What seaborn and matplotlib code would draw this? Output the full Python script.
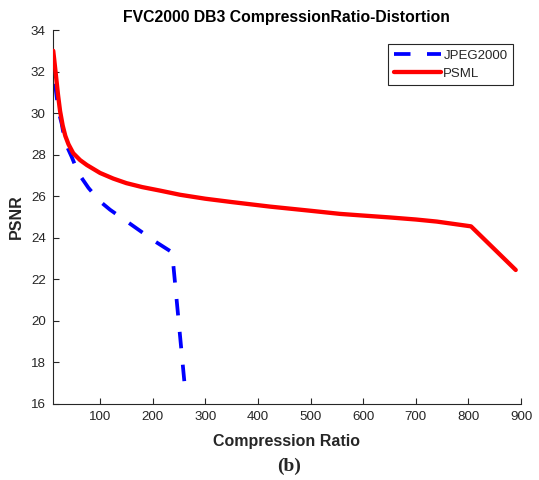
import matplotlib
matplotlib.use("Agg")
import matplotlib.pyplot as plt
import seaborn as sns
import pandas as pd

# ---- data ----
jpeg_x = [10, 14, 21, 27, 33.5, 46, 59, 78, 100, 119, 150, 206, 237, 262]
jpeg_y = [33.0, 31.5, 30.1, 29.5, 28.6, 27.9, 27.1, 26.4, 25.75, 25.35, 24.8, 23.8, 23.3, 16.6]

psml_x = [11, 13, 16, 20, 24, 29, 34, 40, 49, 62, 75, 100, 125, 150, 180, 214, 252,
          300, 350, 423, 500, 556, 594, 650, 700, 740, 805, 890]
psml_y = [33.0, 32.55, 31.85, 30.9, 30.1, 29.4, 28.9, 28.5, 28.07, 27.74, 27.5, 27.12,
          26.85, 26.63, 26.44, 26.27, 26.07, 25.88, 25.72, 25.5, 25.3, 25.15, 25.08,
          24.98, 24.88, 24.78, 24.55, 22.45]

series_names = ["JPEG2000", "PSML"]
xticks = [100, 200, 300, 400, 500, 600, 700, 800, 900]
yticks = [16, 18, 20, 22, 24, 26, 28, 30, 32, 34]

df = pd.concat([
    pd.DataFrame({"ratio": jpeg_x, "psnr": jpeg_y, "method": series_names[0]}),
    pd.DataFrame({"ratio": psml_x, "psnr": psml_y, "method": series_names[1]}),
], ignore_index=True)

sns.set_theme(style="white")
plt.rcParams["font.family"] = ["Liberation Sans", "DejaVu Sans"]

fig = plt.figure(figsize=(5.39, 4.80), dpi=100)
ax = fig.add_axes([52.7 / 539, 76 / 480, (521 - 52.7) / 539, (404 - 30) / 480])

sns.lineplot(data=df, x="ratio", y="psnr", hue="method", style="method",
             palette={"JPEG2000": "#0000ff", "PSML": "#ff0000"},
             dashes={"JPEG2000": (4.4, 4.4), "PSML": ""},
             sort=False, estimator=None, ax=ax, legend=False)
lines = ax.get_lines()
lines[0].set_linewidth(2.7)
lines[0].set_dashes((4.4, 4.4))
lines[1].set_linewidth(3.1)
lines[1].set_zorder(3)

ax.set_xlim(10, 900)
ax.set_ylim(16, 34)
ax.set_xticks(xticks)
ax.set_yticks(yticks)
ax.tick_params(direction="in", length=4, width=0.8, colors="#262626",
               labelsize=9.6, bottom=True, left=True, pad=5)
for s in ["top", "right"]:
    ax.spines[s].set_visible(False)
for s in ["left", "bottom"]:
    ax.spines[s].set_color("#262626")
    ax.spines[s].set_linewidth(0.8)

ax.set_xlabel("Compression Ratio", fontsize=11.5, fontweight="bold", color="#262626", labelpad=8)
ax.set_ylabel("PSNR", fontsize=11.5, fontweight="bold", color="#262626", labelpad=5)
ax.set_title("FVC2000 DB3 CompressionRatio-Distortion", fontsize=11.3,
             fontweight="bold", color="black", pad=6)

leg = ax.legend(lines, series_names, loc="upper right", bbox_to_anchor=(0.983, 0.9626),
                borderaxespad=0, fontsize=9.5, frameon=True, fancybox=False,
                edgecolor="#262626", handlelength=3.6, handletextpad=0.15,
                labelspacing=0.45, borderpad=0.42, framealpha=1)
leg.get_frame().set_linewidth(0.8)

fig.text(289 / 539, 1 - 466 / 480, "(b)", ha="center", va="center",
         fontsize=14, fontweight="bold", family=["Liberation Serif", "DejaVu Serif"])

fig.savefig("out.png", dpi=100)
